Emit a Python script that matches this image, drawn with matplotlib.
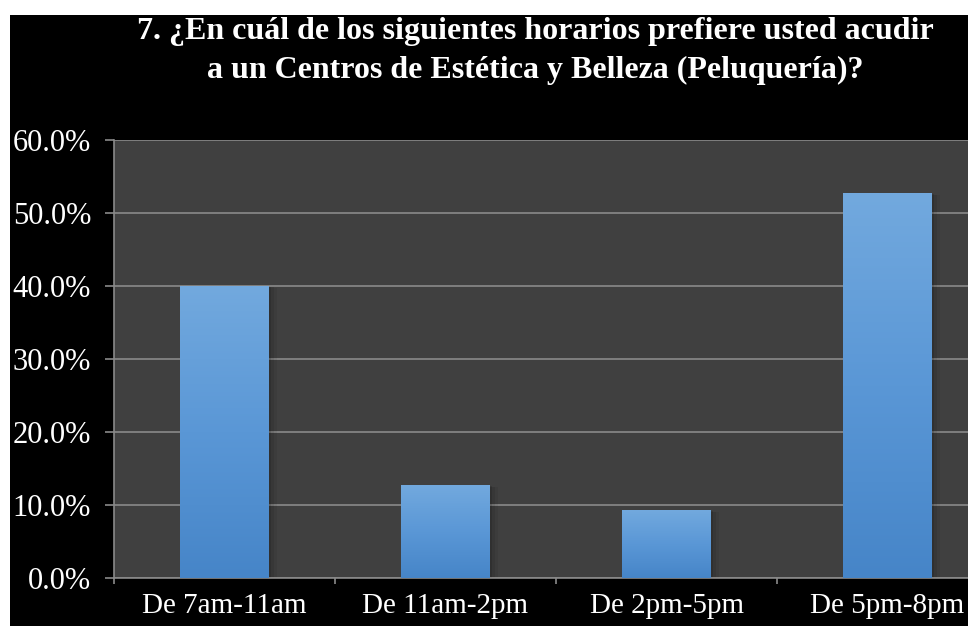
import matplotlib
matplotlib.use("Agg")
import matplotlib.pyplot as plt
import numpy as np
from matplotlib.patches import Rectangle
from matplotlib.ticker import FuncFormatter, FixedLocator
from matplotlib.colors import LinearSegmentedColormap

categories = ["De 7am-11am", "De 11am-2pm", "De 2pm-5pm", "De 5pm-8pm"]
values = [40.0, 12.7, 9.3, 52.7]
yticks = [0, 10, 20, 30, 40, 50, 60]
title = "7. ¿En cuál de los siguientes horarios prefiere usted acudir\na un Centros de Estética y Belleza (Peluquería)?"

W, H = 968, 626
fig = plt.figure(figsize=(W / 100, H / 100), dpi=100, facecolor="white")
fig.add_artist(Rectangle((10 / W, 0), 1, 1 - 15 / H, transform=fig.transFigure,
                         facecolor="black", edgecolor="none", zorder=-10))

ax = fig.add_axes([114 / W, 48 / H, 884 / W, 438 / H])
ax.set_zorder(1)
ax.set_facecolor("#404040")
x = np.arange(len(categories))
bars = ax.bar(x, values, width=0.4, color="none", zorder=3)

grad = np.linspace(0, 1, 256).reshape(-1, 1)
cmap = LinearSegmentedColormap.from_list("g", ["#4685c8", "#5a97d6", "#72a9de"])
for b in bars:
    x0, w, h = b.get_x(), b.get_width(), b.get_height()
    for i, a in enumerate([0.12, 0.08, 0.05]):
        off = 0.012 * (i + 1)
        ax.add_patch(Rectangle((x0 + off, 0), w, h - off * 8, facecolor="black",
                               alpha=a, edgecolor="none", zorder=2))
    ax.imshow(grad, extent=[x0, x0 + w, 0, h], origin="lower", aspect="auto",
              cmap=cmap, zorder=3.5)

ax.set_xlim(-0.5, len(categories) - 0.5)
ax.set_ylim(0, 60)

ax.yaxis.set_major_locator(FixedLocator(yticks))
ax.yaxis.set_major_formatter(FuncFormatter(lambda v, p: f"{v:.1f}%"))
ax.grid(axis="y", color="#8a8a8a", linewidth=1.2, zorder=1)
ax.set_axisbelow(True)

ax.set_xticks(x)
ax.set_xticklabels(categories)
ax.xaxis.set_minor_locator(FixedLocator(np.arange(-0.5, len(categories), 1.0)))
ax.tick_params(axis="x", which="major", length=0, pad=11)
ax.tick_params(axis="x", which="minor", length=4, color="#8a8a8a", width=1.2, direction="out")
ax.tick_params(axis="y", length=6.5, color="#8a8a8a", width=1.2, pad=10)

for lab in ax.get_xticklabels():
    lab.set_family("Liberation Serif")
    lab.set_fontsize(21)
    lab.set_color("white")
for lab in ax.get_yticklabels():
    lab.set_family("Liberation Serif")
    lab.set_fontsize(22)
    lab.set_color("white")

for s in ["top", "right"]:
    ax.spines[s].set_visible(False)
for s in ["left", "bottom"]:
    ax.spines[s].set_color("#8a8a8a")
    ax.spines[s].set_linewidth(1.2)

fig.text(535 / W, 1 - 51 / H, title, ha="center", va="center", color="white",
         family="Liberation Serif", fontweight="bold", fontsize=23, linespacing=1.42)

fig.savefig("out.png", dpi=100, facecolor="white")
